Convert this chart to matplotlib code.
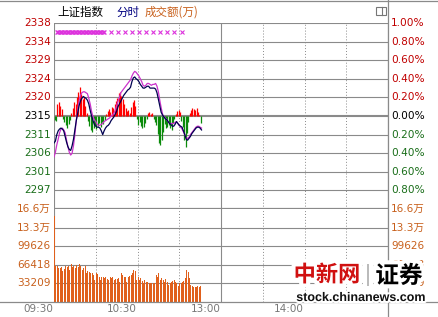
import matplotlib
matplotlib.use("Agg")
import matplotlib.pyplot as plt
import matplotlib.patheffects as pe
from matplotlib.lines import Line2D
from matplotlib.patches import Rectangle

plt.rcParams["font.family"] = ["DejaVu Sans", "Noto Sans CJK SC"]

# one value per minute from 09:30, in % change against previous close
index_pct = [-0.29, -0.27, -0.20, -0.16, -0.14, -0.13, -0.14, -0.16, -0.22, -0.28,
             -0.33, -0.36, -0.37, -0.32, -0.25, -0.15, -0.05, 0.03, 0.11, 0.16,
             0.19, 0.21, 0.20, 0.19, 0.17, 0.13, 0.06, 0.00, -0.05, -0.09,
             -0.11, -0.12, -0.12, -0.13, -0.16, -0.20, -0.16, -0.13, -0.11, -0.10,
             -0.08, -0.05, -0.03, -0.01, 0.02, 0.05, 0.10, 0.13, 0.16, 0.19,
             0.22, 0.24, 0.26, 0.28, 0.29, 0.31, 0.37, 0.41, 0.42, 0.40,
             0.39, 0.37, 0.34, 0.32, 0.30, 0.30, 0.31, 0.32, 0.32, 0.30,
             0.30, 0.30, 0.30, 0.29, 0.25, 0.18, 0.11, 0.04, 0.01, -0.01,
             -0.03, -0.04, -0.06, -0.08, -0.09, -0.11, -0.11, -0.09, -0.06, -0.08,
             -0.10, -0.11, -0.12, -0.16, -0.20, -0.25, -0.26, -0.24, -0.22, -0.19,
             -0.17, -0.15, -0.13, -0.12, -0.12, -0.13, -0.15]
second_pct = [-0.44, -0.39, -0.31, -0.25, -0.18, -0.14, -0.13, -0.15, -0.18, -0.26,
              -0.33, -0.39, -0.42, -0.40, -0.32, -0.20, -0.05, 0.06, 0.16, 0.22,
              0.25, 0.26, 0.26, 0.25, 0.24, 0.19, 0.13, 0.05, -0.01, -0.04,
              -0.06, -0.09, -0.10, -0.10, -0.09, -0.08, -0.06, -0.05, -0.04, -0.03,
              -0.02, 0.00, 0.01, 0.03, 0.06, 0.11, 0.16, 0.20, 0.25, 0.27,
              0.29, 0.31, 0.33, 0.35, 0.37, 0.39, 0.43, 0.46, 0.48, 0.47,
              0.45, 0.43, 0.40, 0.37, 0.33, 0.32, 0.33, 0.35, 0.35, 0.34,
              0.33, 0.34, 0.34, 0.35, 0.32, 0.26, 0.17, 0.09, 0.02, -0.01,
              -0.02, -0.04, -0.06, -0.08, -0.08, -0.08, -0.08, -0.07, -0.06, -0.08,
              -0.10, -0.12, -0.14, -0.17, -0.20, -0.24, -0.24, -0.23, -0.20, -0.18,
              -0.16, -0.14, -0.12, -0.11, -0.11, -0.12, -0.13]
strength = [-0.04, -0.05, 0.13, 0.15, 0.11, 0.08, -0.03, -0.06, -0.10, -0.13,
            -0.09, -0.04, 0.03, 0.09, 0.15, 0.13, 0.20, 0.26, 0.31, 0.24,
            0.18, 0.20, 0.11, 0.03, -0.05, -0.11, -0.15, -0.17, -0.13, -0.10,
            -0.14, -0.11, -0.08, -0.12, -0.06, -0.09, -0.04, 0.02, 0.05, 0.08,
            0.04, 0.10, 0.09, 0.13, 0.16, 0.19, 0.25, 0.26, 0.22, 0.18,
            0.13, 0.09, 0.05, 0.06, 0.03, 0.10, 0.15, 0.17, 0.11, -0.03,
            -0.10, -0.06, -0.11, -0.13, -0.12, -0.08, -0.03, 0.03, 0.04, 0.02,
            0.03, -0.03, -0.06, -0.10, -0.19, -0.29, -0.31, -0.26, -0.17, -0.09,
            -0.13, -0.12, -0.10, -0.13, -0.15, -0.08, -0.03, 0.02, 0.05, 0.06,
            0.04, -0.05, -0.12, -0.26, -0.33, -0.18, -0.06, 0.03, 0.06, 0.09,
            0.08, 0.06, 0.09, 0.04, 0.01, -0.08]
volume = [153900, 64000, 63400, 61000, 60400, 63000, 55000, 59000, 63400, 62000,
          64000, 58000, 67000, 62000, 63400, 60400, 66500, 62000, 67500, 63400,
          57400, 60000, 63400, 51400, 56000, 54400, 52000, 51400, 48400, 39300,
          52500, 50200, 44000, 39300, 44000, 44000, 42300, 44000, 41000, 39300,
          45300, 42300, 44000, 39300, 41000, 40500, 42300, 36300, 52500, 48400,
          45000, 44000, 36300, 44000, 46500, 48400, 52000, 57400, 56200, 39300,
          44000, 39300, 42000, 37500, 33300, 39300, 36300, 35000, 33300, 33300,
          33300, 33300, 33300, 48400, 45000, 52500, 39300, 42300, 39300, 36300,
          40500, 35000, 30200, 34500, 36300, 38100, 39300, 35000, 34500, 28400,
          34500, 33300, 36300, 38000, 42300, 57400, 54400, 42300, 30200, 28400,
          27200, 27200, 26000, 28400, 26000, 28400]
mark_minutes = [2, 3, 4, 5, 6, 7, 8, 9, 10, 11, 12, 13, 14, 15, 16, 17, 18, 19,
                20, 21, 22, 23, 24, 25, 26, 27, 28, 29, 30, 31, 32, 33, 34, 35, 36,
                41, 46, 51, 56, 61, 66, 71, 76, 81, 86, 92]

pct_levels = [1.0, 0.8, 0.6, 0.4, 0.2, 0.0, -0.2, -0.4, -0.6, -0.8]
price_labels = ["2338", "2334", "2329", "2324", "2320", "2315", "2311", "2306", "2301", "2297"]
pct_labels = ["1.00%", "0.80%", "0.60%", "0.40%", "0.20%", "0.00%", "0.20%", "0.40%", "0.60%", "0.80%"]
vol_levels = [166045, 132836, 99626, 66418, 33209]
vol_labels = ["16.6万", "13.3万", "99626", "66418", "33209"]
time_pos = [0, 60, 120, 180]
time_labels = ["09:30", "10:30", "13:00", "14:00"]

RED = "#c00000"
GREEN = "#1a6e1a"
ORANGE = "#c8601c"
GRID = "#8a8a8a"
W, H = 438, 317


def box(l, t, r, b):
    return [l / W, 1 - b / H, (r - l) / W, (b - t) / H]


fig = plt.figure(figsize=(4.38, 3.17), dpi=100)
fig.patch.set_facecolor("white")
ax = fig.add_axes(box(54, 23, 388, 209))
axv = fig.add_axes(box(54, 209, 388, 302))

for a in (ax, axv):
    a.set_xlim(0, 240)
    a.set_xticks([])
    a.set_yticks([])
    for s in a.spines.values():
        s.set_visible(False)
    for t in (30, 60, 90, 150, 180, 210):
        a.axvline(t, color=GRID, lw=0.7, ls=(0, (1, 2)), zorder=1)
    for t in (0, 120, 240):
        a.axvline(t, color=GRID, lw=0.8, zorder=1)

# price panel
ax.set_ylim(-1, 1)
for lv in pct_levels:
    ax.axhline(lv, color=GRID, lw=1.5 if lv == 0 else 0.8, zorder=1)
ax.axhline(-1, color=GRID, lw=1.6, zorder=1)

for i, v in enumerate(strength):
    ax.vlines(i + 0.5, 0, v, color="#ff0000" if v > 0 else "#0a8a0a", lw=0.9, zorder=2)

ax.plot(range(len(second_pct)), second_pct, color="#cc33cc", lw=0.9, zorder=3)
ax.plot(range(len(index_pct)), index_pct, color="#000050", lw=0.9, zorder=4)
ax.plot(mark_minutes, [0.9] * len(mark_minutes), ls="none", marker="x",
        color="#dd33dd", ms=3.0, mew=0.8, zorder=3)

ytr = ax.get_yaxis_transform()
for lv, pl, cl in zip(pct_levels, price_labels, pct_labels):
    c = RED if lv > 0 else ("black" if lv == 0 else GREEN)
    ax.text(-0.01, lv, pl, transform=ytr, ha="right", va="center", fontsize=7.6, color=c)
    ax.text(1.01, lv, cl, transform=ytr, ha="left", va="center", fontsize=7.6, color=c)

# volume panel
axv.set_ylim(0, 166045)
axv.bar(range(len(volume)), volume, width=0.72, align="edge", color="#e0601c", zorder=2)
for lv in vol_levels[1:]:
    axv.axhline(lv, color=GRID, lw=0.8, zorder=1)
vtr = axv.get_yaxis_transform()
for lv, lab in zip(vol_levels, vol_labels):
    axv.text(-0.01, lv, lab, transform=vtr, ha="right", va="center", fontsize=7.6, color=ORANGE)
    axv.text(1.01, lv, lab, transform=vtr, ha="left", va="center", fontsize=7.6, color=ORANGE)

xtr = axv.get_xaxis_transform()
for p, lab in zip(time_pos, time_labels):
    axv.text(p - 0.5, -0.025, lab, transform=xtr, ha="right", va="top", fontsize=7.5, color="#777777")

# frame
fig.add_artist(Line2D([0, 1], [1 - 302 / H] * 2, color=GRID, lw=0.9))
fig.add_artist(Line2D([0, 1], [1 - 0.8 / H] * 2, color=GRID, lw=0.9))
fig.add_artist(Line2D([388 / W] * 2, [0, 1], color=GRID, lw=0.9))
fig.add_artist(Rectangle((376 / W, 1 - 15 / H), 10 / W, 8 / H, fill=False, ec="#777777", lw=0.8))
fig.add_artist(Line2D([382 / W] * 2, [1 - 15 / H, 1 - 7 / H], color="#777777", lw=0.8))

# title row
cjk = ["Noto Sans CJK SC", "DejaVu Sans"]
fig.text(57 / W, 1 - 12 / H, "上证指数", family=cjk, fontsize=8.3, color="black", va="center")
fig.text(116 / W, 1 - 12 / H, "分时", family=cjk, fontsize=8.3, color="#000080", va="center")
fig.text(145 / W, 1 - 12 / H, "成交额(万)", family=cjk, fontsize=8.3, color=ORANGE, va="center")

# watermark
glow = [pe.withStroke(linewidth=6, foreground="white")]
fig.text(327 / W, 1 - 275 / H, "中新网", family=cjk, fontsize=16, fontweight="bold",
         color="#d01010", ha="center", va="center", path_effects=glow)
fig.text(368 / W, 1 - 276 / H, "|", fontsize=16, color="#bbbbbb", ha="center", va="center",
         path_effects=glow)
fig.text(399 / W, 1 - 276 / H, "证券", family=cjk, fontsize=17, fontweight="bold",
         color="black", ha="center", va="center", path_effects=glow)
fig.text(361 / W, 1 - 298 / H, "stock.chinanews.com", family="Liberation Sans", fontsize=9,
         fontweight="bold", color="#111111", ha="center", va="center",
         path_effects=[pe.withStroke(linewidth=3, foreground="white")])

fig.savefig("out.png", dpi=100)
